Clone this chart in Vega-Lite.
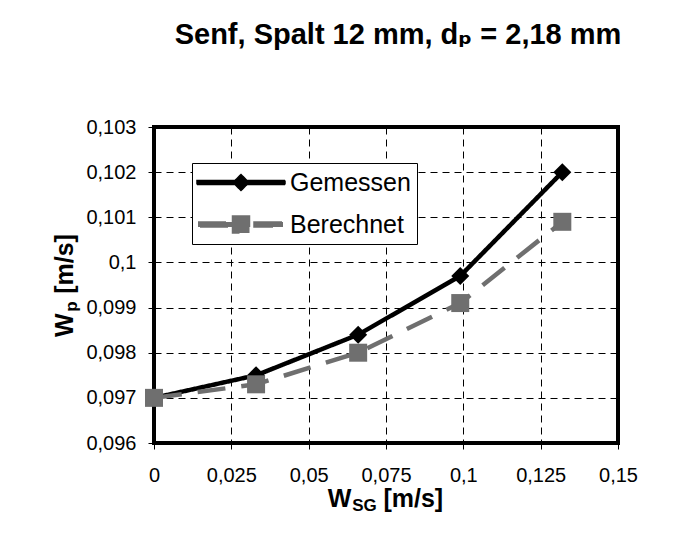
{
  "$schema": "https://vega.github.io/schema/vega-lite/v6.json",
  "width": 464,
  "height": 316,
  "autosize": {"type": "none"},
  "padding": {"left": 154, "top": 127, "right": 66, "bottom": 103},
  "background": "white",
  "title": {
    "text": "Senf, Spalt 12 mm, dₚ = 2,18 mm",
    "font": "Liberation Sans, Arial, DejaVu Sans",
    "fontSize": 29,
    "fontWeight": "bold",
    "color": "#000000",
    "anchor": "middle",
    "frame": "group",
    "baseline": "alphabetic",
    "offset": 44,
    "dx": 12
  },
  "data": {
    "values": [
      {"series": "Gemessen", "x": 0, "y": 0.0970},
      {"series": "Gemessen", "x": 0.033, "y": 0.0975},
      {"series": "Gemessen", "x": 0.066, "y": 0.0984},
      {"series": "Gemessen", "x": 0.099, "y": 0.0997},
      {"series": "Gemessen", "x": 0.132, "y": 0.1020},
      {"series": "Berechnet", "x": 0, "y": 0.0970},
      {"series": "Berechnet", "x": 0.033, "y": 0.0973},
      {"series": "Berechnet", "x": 0.066, "y": 0.0980},
      {"series": "Berechnet", "x": 0.099, "y": 0.0991},
      {"series": "Berechnet", "x": 0.132, "y": 0.1009}
    ]
  },
  "layer": [
    {
      "mark": {"type": "line", "strokeWidth": 4.5},
      "encoding": {
        "x": {
          "field": "x",
          "type": "quantitative",
          "scale": {"domain": [0, 0.15], "nice": false, "zero": false},
          "axis": {
            "orient": "bottom",
            "values": [0, 0.025, 0.05, 0.075, 0.1, 0.125, 0.15],
            "labelExpr": "replace(format(datum.value, '.4~f'), '.', ',')",
            "labelFont": "Liberation Sans",
            "labelFontSize": 20,
            "labelColor": "#000000",
            "labelPadding": 16,
            "labelFlush": false,
            "labelOverlap": false,
            "labelBound": false,
            "tickSize": 6,
            "tickColor": "#000000",
            "tickWidth": 1,
            "domain": false,
            "grid": true,
            "gridColor": "#000000",
            "gridDash": [7, 5],
            "gridWidth": 1,
            "title": "W\u2002\u2002 [m/s]",
            "titleFont": "Liberation Sans",
            "titleFontSize": 25,
            "titleFontWeight": "bold",
            "titleColor": "#000000",
            "titleX": 231,
            "titleY": 63,
            "titleAlign": "center",
            "titleBaseline": "alphabetic"
          }
        },
        "y": {
          "field": "y",
          "type": "quantitative",
          "scale": {"domain": [0.096, 0.103], "nice": false, "zero": false},
          "axis": {
            "orient": "left",
            "values": [0.096, 0.097, 0.098, 0.099, 0.1, 0.101, 0.102, 0.103],
            "labelExpr": "replace(format(datum.value, '.4~f'), '.', ',')",
            "labelFont": "Liberation Sans",
            "labelFontSize": 20,
            "labelColor": "#000000",
            "labelPadding": 12,
            "labelFlush": false,
            "labelOverlap": false,
            "labelBound": false,
            "tickSize": 6,
            "tickColor": "#000000",
            "tickWidth": 1,
            "domain": false,
            "grid": true,
            "gridColor": "#000000",
            "gridDash": [7, 5],
            "gridWidth": 1,
            "title": "W\u2002 [m/s]",
            "titleFont": "Liberation Sans",
            "titleFontSize": 25,
            "titleFontWeight": "bold",
            "titleColor": "#000000",
            "titleAngle": 270,
            "titleX": -82,
            "titleY": 158,
            "titleAlign": "center",
            "titleBaseline": "alphabetic"
          }
        },
        "color": {
          "field": "series",
          "type": "nominal",
          "scale": {"domain": ["Gemessen", "Berechnet"], "range": ["#000000", "#6f6f6f"]},
          "legend": {
            "orient": "none",
            "legendX": 38,
            "legendY": 36,
            "title": null,
            "symbolSize": 625,
            "padding": 6,
            "rowPadding": 15,
            "labelOffset": 65,
            "labelFont": "Liberation Sans",
            "labelFontSize": 25,
            "labelColor": "#000000",
            "strokeColor": "#000000",
            "fillColor": "#ffffff",
            "encode": {
              "legend": {"update": {"strokeWidth": {"value": 1}}},
              "symbols": {
                "update": {
                  "shape": {"signal": "datum.value === 'Gemessen' ? 'M-3.52,-0.16H3.52V0.16H-3.52ZM0,-0.64L0.64,0L0,0.64L-0.64,0Z' : 'M-3.44,-0.2H-0.68V0.2H-3.44ZM-0.68,-0.68H0.68V0.68H-0.68ZM1.04,-0.2H3.36V0.2H1.04Z'"},
                  "fill": {"signal": "datum.value === 'Gemessen' ? '#000000' : '#6f6f6f'"},
                  "stroke": {"value": "transparent"},
                  "strokeDash": {"value": [1, 0]},
                  "opacity": {"value": 1},
                  "x": {"value": 43},
                  "size": {"value": 625}
                }
              }
            }
          }
        },
        "strokeDash": {
          "field": "series",
          "type": "nominal",
          "scale": {"domain": ["Gemessen", "Berechnet"], "range": [[1, 0], [28, 16]]},
          "legend": null
        }
      }
    },
    {
      "transform": [{"filter": "datum.series === 'Gemessen'"}],
      "mark": {"type": "point", "filled": true, "opacity": 1, "size": 324, "shape": "diamond", "color": "#000000"},
      "encoding": {
        "x": {
          "field": "x",
          "type": "quantitative",
          "axis": {
            "orient": "top",
            "labels": false,
            "ticks": false,
            "domain": false,
            "grid": false,
            "title": "SG",
            "titleFont": "Liberation Sans",
            "titleFontSize": 17,
            "titleFontWeight": "bold",
            "titleColor": "#000000",
            "titleX": 210,
            "titleY": 383,
            "titleAlign": "center",
            "titleBaseline": "alphabetic"
          }
        },
        "y": {
          "field": "y",
          "type": "quantitative",
          "axis": {
            "orient": "right",
            "labels": false,
            "ticks": false,
            "domain": false,
            "grid": false,
            "title": "p",
            "titleFont": "Liberation Sans",
            "titleFontSize": 17,
            "titleFontWeight": "bold",
            "titleColor": "#000000",
            "titleAngle": 270,
            "titleX": -542,
            "titleY": 179,
            "titleAlign": "center",
            "titleBaseline": "alphabetic"
          }
        }
      }
    },
    {
      "transform": [{"filter": "datum.series === 'Berechnet'"}],
      "mark": {"type": "point", "filled": true, "opacity": 1, "size": 324, "shape": "square", "color": "#6f6f6f"},
      "encoding": {
        "x": {"field": "x", "type": "quantitative", "axis": null},
        "y": {"field": "y", "type": "quantitative", "axis": null}
      }
    }
  ],
  "resolve": {"axis": {"x": "independent", "y": "independent"}},
  "config": {
    "view": {"stroke": "#000000", "strokeWidth": 4},
    "font": "Liberation Sans"
  }
}
